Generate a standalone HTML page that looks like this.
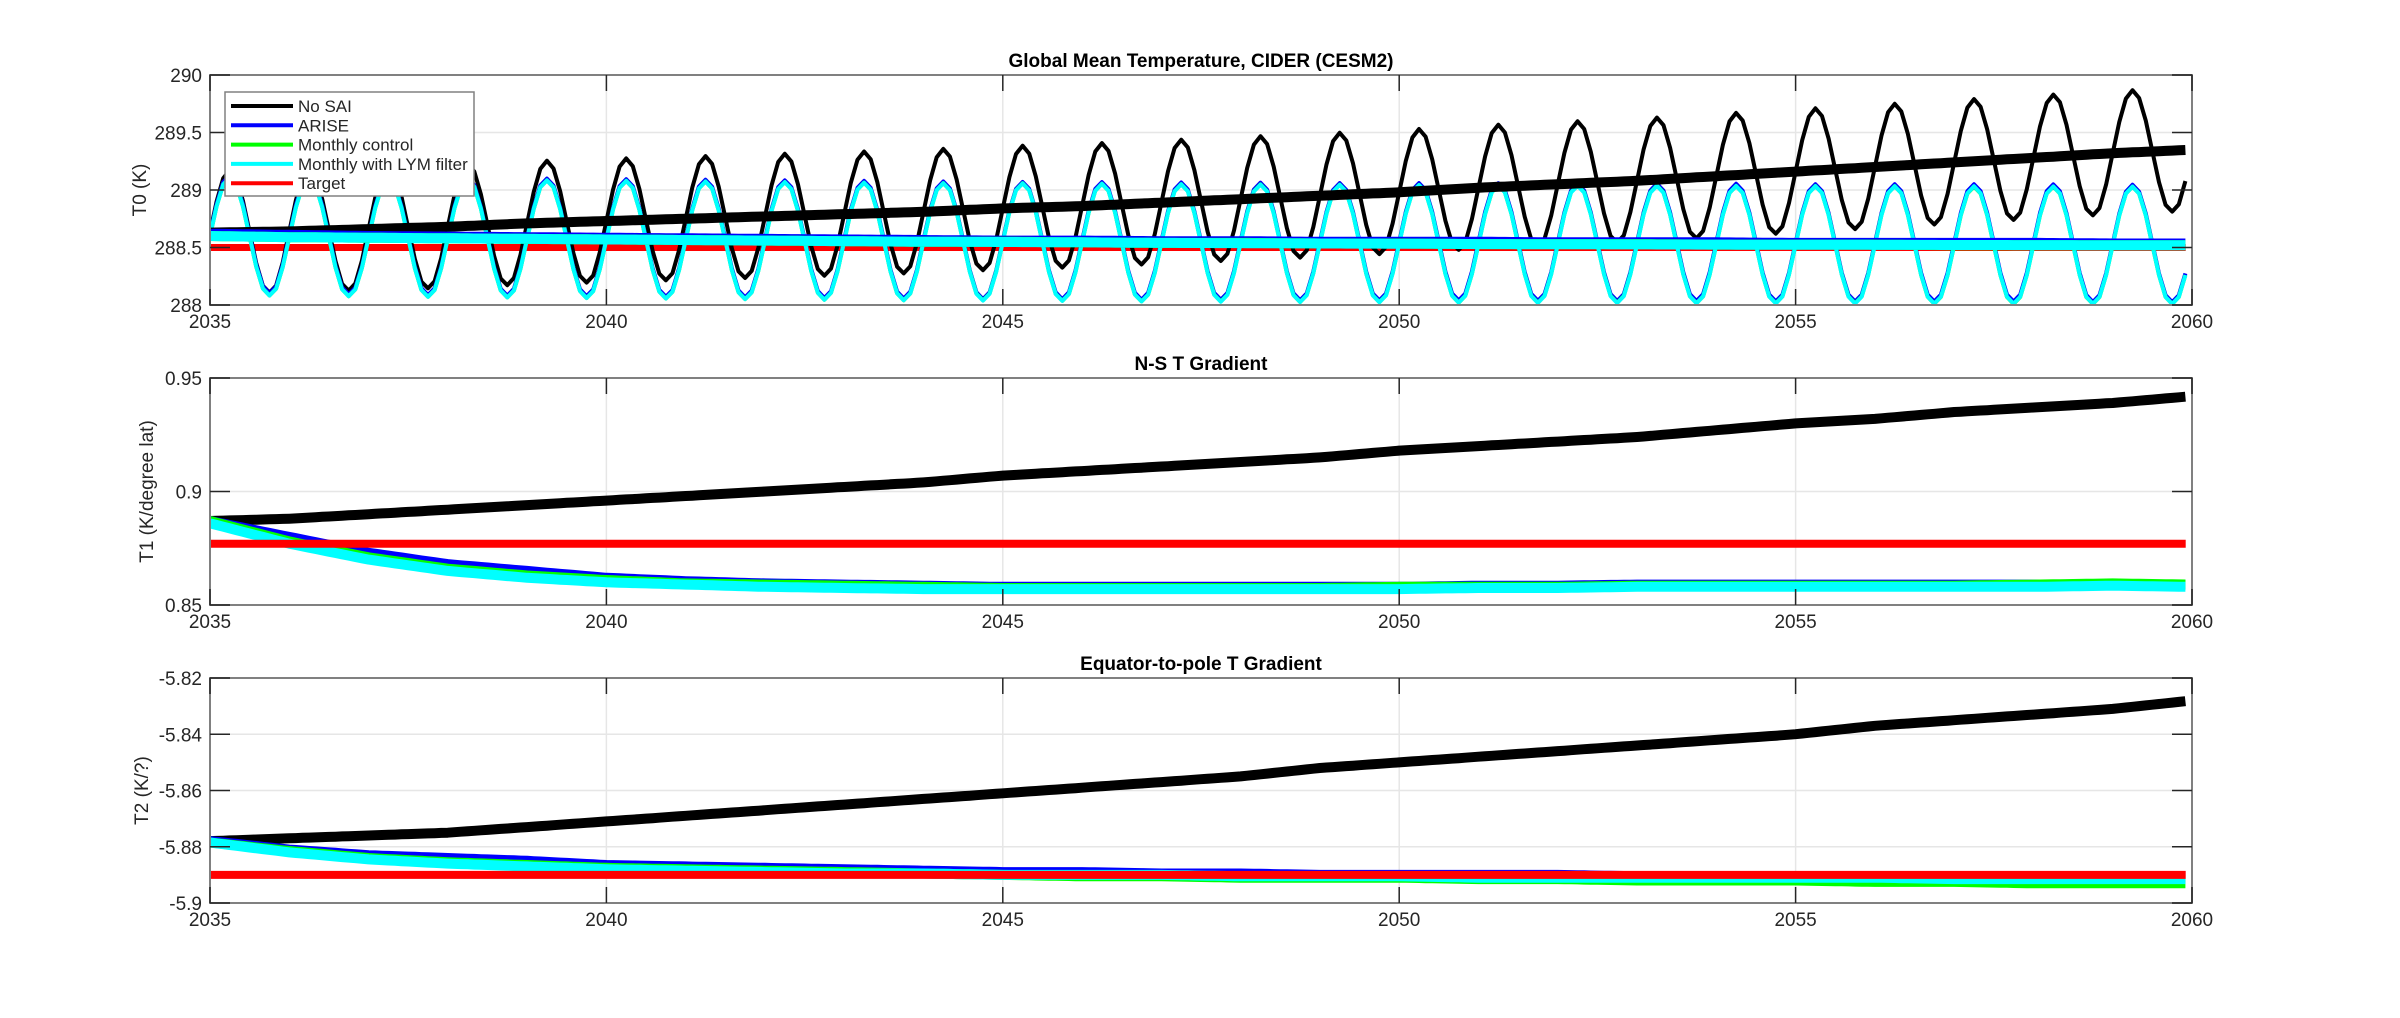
<!DOCTYPE html>
<html><head><meta charset="utf-8">
<style>
html,body{margin:0;padding:0;background:#fff;}
svg{display:block;font-family:"Liberation Sans",Arial,sans-serif;}
</style></head>
<body>
<svg id="fig" width="2400" height="1018" viewBox="0 0 2400 1018" xmlns="http://www.w3.org/2000/svg"></svg>
<script>
// ---- data ----
const years = [2035,2036,2037,2038,2039,2040,2041,2042,2043,2044,2045,2046,2047,2048,2049,2050,2051,2052,2053,2054,2055,2056,2057,2058,2059,2060];
const xTicks = [2035,2040,2045,2050,2055,2060];
// Panel 1 (T0) annual means
const t0NoSAI = [288.63,288.64,288.66,288.68,288.71,288.73,288.75,288.77,288.79,288.81,288.84,288.86,288.89,288.92,288.95,288.98,289.02,289.05,289.08,289.12,289.16,289.20,289.24,289.28,289.32,289.35];
const t0Arise = [288.62,288.61,288.60,288.595,288.59,288.585,288.58,288.575,288.57,288.565,288.56,288.56,288.555,288.555,288.55,288.55,288.55,288.545,288.545,288.545,288.54,288.54,288.54,288.54,288.535,288.535];
const t0Monthly = [288.60,288.59,288.585,288.58,288.575,288.57,288.565,288.56,288.555,288.55,288.55,288.545,288.54,288.54,288.535,288.535,288.53,288.53,288.53,288.525,288.525,288.525,288.52,288.52,288.52,288.52];
const t0LYM = [288.60,288.59,288.585,288.58,288.575,288.57,288.565,288.56,288.555,288.55,288.548,288.545,288.54,288.538,288.535,288.533,288.53,288.528,288.527,288.525,288.524,288.523,288.522,288.521,288.52,288.52];
const t0Target = [288.5,288.5];
// seasonal cycle anomalies (K), month 0..11
const seasonNoSAI = [0,0.27,0.47,0.54,0.47,0.27,0,-0.27,-0.47,-0.53,-0.47,-0.27];
const seasonCtrl  = [0,0.26,0.45,0.51,0.45,0.26,0,-0.26,-0.45,-0.51,-0.45,-0.26];
// Panel 2 (T1)
const t1NoSAI = [0.887,0.888,0.890,0.892,0.894,0.896,0.898,0.900,0.902,0.904,0.907,0.909,0.911,0.913,0.915,0.918,0.920,0.922,0.924,0.927,0.930,0.932,0.935,0.937,0.939,0.942];
const t1Arise = [0.887,0.880,0.873,0.868,0.865,0.862,0.8605,0.8595,0.859,0.8585,0.858,0.858,0.858,0.858,0.858,0.858,0.8585,0.8585,0.859,0.859,0.859,0.859,0.859,0.859,0.859,0.859];
const t1Monthly = [0.887,0.878,0.871,0.866,0.863,0.861,0.8595,0.859,0.8585,0.858,0.8575,0.8575,0.8575,0.8575,0.8575,0.858,0.858,0.858,0.8585,0.8585,0.8585,0.8585,0.8585,0.859,0.8595,0.859];
const t1LYM = [0.886,0.877,0.870,0.865,0.862,0.860,0.859,0.858,0.8575,0.857,0.857,0.857,0.857,0.857,0.857,0.857,0.8575,0.8575,0.858,0.858,0.858,0.858,0.858,0.858,0.8585,0.858];
const t1Target = [0.877,0.877];
// Panel 3 (T2)
const t2NoSAI = [-5.878,-5.877,-5.876,-5.875,-5.873,-5.871,-5.869,-5.867,-5.865,-5.863,-5.861,-5.859,-5.857,-5.855,-5.852,-5.850,-5.848,-5.846,-5.844,-5.842,-5.840,-5.837,-5.835,-5.833,-5.831,-5.828];
const t2Arise = [-5.878,-5.881,-5.883,-5.884,-5.885,-5.8865,-5.887,-5.8875,-5.888,-5.8885,-5.889,-5.889,-5.8895,-5.8895,-5.890,-5.890,-5.890,-5.890,-5.8905,-5.8905,-5.8905,-5.8905,-5.891,-5.891,-5.891,-5.891];
const t2Monthly = [-5.8785,-5.8815,-5.884,-5.8855,-5.8865,-5.8875,-5.888,-5.8885,-5.889,-5.8895,-5.890,-5.8905,-5.8905,-5.891,-5.891,-5.891,-5.8915,-5.8915,-5.892,-5.892,-5.892,-5.8925,-5.8925,-5.893,-5.893,-5.893];
const t2LYM = [-5.8785,-5.882,-5.8845,-5.886,-5.887,-5.888,-5.8885,-5.889,-5.8895,-5.8895,-5.890,-5.890,-5.890,-5.8905,-5.8905,-5.8905,-5.891,-5.891,-5.891,-5.891,-5.891,-5.891,-5.8915,-5.8915,-5.8915,-5.8915];
const t2Target = [-5.89,-5.89];
const legendLabels = ["No SAI","ARISE","Monthly control","Monthly with LYM filter","Target"];

// ---- drawing ----
const NS="http://www.w3.org/2000/svg";
const svg=document.getElementById('fig');
function mk(tag,attrs,parent){const e=document.createElementNS(NS,tag);for(const k in attrs)e.setAttribute(k,attrs[k]);(parent||svg).appendChild(e);return e;}
const X0=210,X1=2192;
const xs=v=>X0+(v-2035)/(2060-2035)*(X1-X0);
const COL={black:"#000000",blue:"#0000ff",green:"#00ff00",cyan:"#00ffff",red:"#ff0000"};
function interp(arr,t){const i=Math.min(Math.floor(t-2035),arr.length-2);const f=(t-2035)-i;return arr[i]+(arr[i+1]-arr[i])*f;}

function panel(cfg){
  const g=mk('g',{});
  
  
  const yS=v=>cfg.y0-(v-cfg.ymin)/(cfg.ymax-cfg.ymin)*(cfg.y0-cfg.y1);
  xTicks.forEach(v=>{const l=mk('line',{x1:xs(v),x2:xs(v),y1:cfg.y1,y2:cfg.y0,stroke:"#e6e6e6","stroke-width":1.5},g);});
  cfg.yTicks.forEach(v=>{const l=mk('line',{x1:X0,x2:X1,y1:yS(v),y2:yS(v),stroke:"#e6e6e6","stroke-width":1.5},g);});
  const clip=mk('clipPath',{id:cfg.name+'-clip'},g);mk('rect',{x:X0,y:cfg.y1,width:X1-X0,height:cfg.y0-cfg.y1},clip);
  const pg=mk('g',{'clip-path':'url(#'+cfg.name+'-clip)'},g);
  cfg.series.forEach(s=>{
    let pts=[];
    if(s.season){for(let m=0;m<300;m++){const t=2035+m/12;pts.push([xs(t),yS(interp(s.data,t)+s.season[m%12])]);}}
    else if(s.data.length===2){pts=[[xs(2035),yS(s.data[0])],[xs(2059.92),yS(s.data[1])]];}
    else {for(let m=0;m<300;m++){const t=2035+m/12;pts.push([xs(t),yS(interp(s.data,t))]);}}
    const p=mk('polyline',{points:pts.map(p=>p[0].toFixed(1)+','+p[1].toFixed(1)).join(' '),fill:'none',stroke:s.color,'stroke-width':s.w,'stroke-linejoin':'round'},pg);
    
    
  });
  const b=mk('rect',{x:X0,y:cfg.y1,width:X1-X0,height:cfg.y0-cfg.y1,fill:'none',stroke:'#808080','stroke-width':2},g);
  
  xTicks.forEach(v=>{mk('line',{x1:xs(v),x2:xs(v),y1:cfg.y0,y2:cfg.y0-16,stroke:'#262626','stroke-width':1.5},g);mk('line',{x1:xs(v),x2:xs(v),y1:cfg.y1,y2:cfg.y1+16,stroke:'#262626','stroke-width':1.5},g);
    const t=mk('text',{x:xs(v),y:cfg.y0+23,'font-size':19,fill:'#262626','text-anchor':'middle'},g);t.textContent=v;});
  cfg.yTicks.forEach((v,i)=>{const y=yS(v);mk('line',{x1:X0,x2:X0+20,y1:y,y2:y,stroke:'#262626','stroke-width':1.5},g);mk('line',{x1:X1,x2:X1-20,y1:y,y2:y,stroke:'#262626','stroke-width':1.5},g);
    const t=mk('text',{x:X0-8,y:y+7,'font-size':19,fill:'#262626','text-anchor':'end'},g);t.textContent=cfg.yLabels[i];});
  const tt=mk('text',{x:(X0+X1)/2,y:cfg.y1-8,'font-size':19,'font-weight':'bold',fill:'#000','text-anchor':'middle'},g);tt.textContent=cfg.title;
  
  const yl=mk('text',{x:0,y:0,'font-size':19,fill:'#262626','text-anchor':'middle',transform:`translate(${cfg.ylx},${(cfg.y0+cfg.y1)/2}) rotate(-90)`},g);yl.textContent=cfg.ylabel;
  
}

panel({name:'t0-panel',y1:75,y0:305,ymin:288,ymax:290,yTicks:[288,288.5,289,289.5,290],yLabels:['288','288.5','289','289.5','290'],title:'Global Mean Temperature, CIDER (CESM2)',ylabel:'T0 (K)',ylx:146,
 series:[
  {data:t0Target,color:COL.red,w:7,dn:'target-line'},
  {data:t0NoSAI,season:seasonNoSAI,color:COL.black,w:4,dn:'nosai-monthly-line'},
  {data:t0Arise,season:seasonCtrl,color:COL.blue,w:4,dn:'arise-monthly-line'},
  {data:t0Monthly,season:seasonCtrl,color:COL.green,w:4,dn:'monthly-control-line'},
  {data:t0LYM,season:seasonCtrl,color:COL.cyan,w:4,dn:'lym-monthly-line'},
  {data:t0NoSAI,color:COL.black,w:10,dn:'nosai-mean-line'},
  {data:t0Arise,color:COL.blue,w:10,dn:'arise-mean-line'},
  {data:t0Monthly,color:COL.green,w:10,dn:'monthly-control-mean-line'},
  {data:t0LYM,color:COL.cyan,w:10,dn:'lym-mean-line'}
 ]});
panel({name:'t1-panel',y1:378,y0:605,ymin:0.85,ymax:0.95,yTicks:[0.85,0.9,0.95],yLabels:['0.85','0.9','0.95'],title:'N-S T Gradient',ylabel:'T1 (K/degree lat)',ylx:153,
 series:[
  {data:t1NoSAI,color:COL.black,w:10,dn:'nosai-line'},
  {data:t1Arise,color:COL.blue,w:10,dn:'arise-line'},
  {data:t1Monthly,color:COL.green,w:10,dn:'monthly-control-line'},
  {data:t1LYM,color:COL.cyan,w:10,dn:'lym-line'},
  {data:t1Target,color:COL.red,w:8,dn:'target-line'}
 ]});
panel({name:'t2-panel',y1:678,y0:903,ymin:-5.9,ymax:-5.82,yTicks:[-5.9,-5.88,-5.86,-5.84,-5.82],yLabels:['-5.9','-5.88','-5.86','-5.84','-5.82'],title:'Equator-to-pole T Gradient',ylabel:'T2 (K/?)',ylx:148,
 series:[
  {data:t2NoSAI,color:COL.black,w:10,dn:'nosai-line'},
  {data:t2Arise,color:COL.blue,w:10,dn:'arise-line'},
  {data:t2Monthly,color:COL.green,w:10,dn:'monthly-control-line'},
  {data:t2LYM,color:COL.cyan,w:10,dn:'lym-line'},
  {data:t2Target,color:COL.red,w:8,dn:'target-line'}
 ]});

// legend
const lg=mk('g',{});


mk('rect',{x:225,y:92,width:249,height:104,fill:'#fff',stroke:'#808080','stroke-width':1.5},lg);
const lc=[COL.black,COL.blue,COL.green,COL.cyan,COL.red];
legendLabels.forEach((lab,i)=>{
  const y=106+i*19.3;
  const e=mk('g',{},lg);
  
  
  mk('line',{x1:231,x2:293,y1:y,y2:y,stroke:lc[i],'stroke-width':4},e);
  const t=mk('text',{x:298,y:y+6,'font-size':17,fill:'#262626'},e);t.textContent=lab;
});
</script>
</body></html>
